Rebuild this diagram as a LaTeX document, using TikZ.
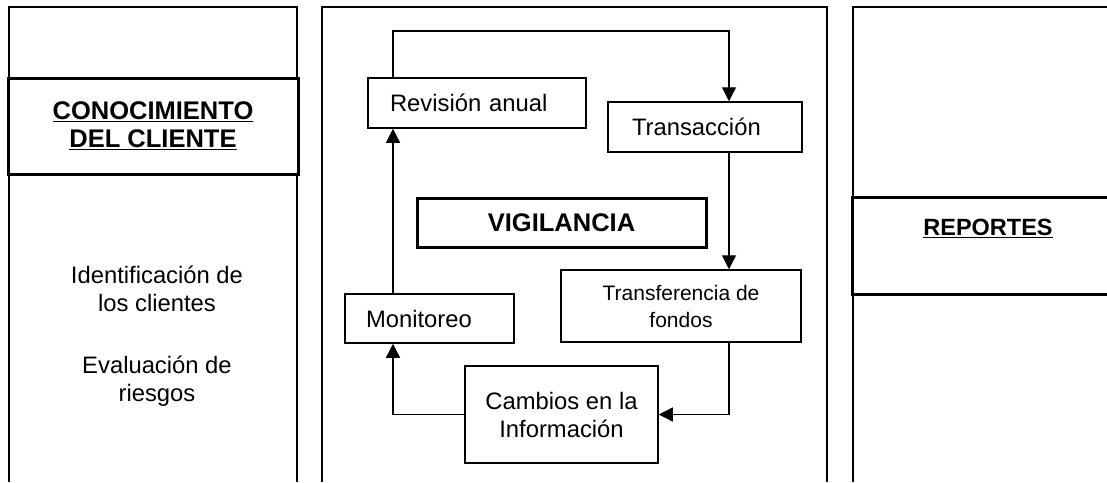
\documentclass[tikz,border=0pt]{standalone}
\usepackage{fontspec}
\setmainfont{Liberation Sans}
\usetikzlibrary{arrows.meta}

\begin{document}
\begin{tikzpicture}[x=1pt, y=-1pt,
  every node/.style={font=\fontsize{23.8}{28}\selectfont, align=center},
  caja/.style={draw, line width=1.5pt, inner sep=0pt},
  cajagruesa/.style={draw, line width=3pt, inner sep=0pt},
  titulo/.style={font=\fontsize{25.5}{28}\selectfont\bfseries},
  flecha/.style={line width=1.3pt, -{Triangle[length=14pt,width=14pt]}}]
\useasboundingbox (0,0) rectangle (1107,482);
\clip (0,0) rectangle (1107,482);
% Columnas
\draw[line width=1.5pt] (9,482) |- (297,7) -- (297,482);
\draw[line width=1.5pt] (322,482) |- (827,7) -- (827,482);
\draw[line width=1.5pt] (853,482) |- (1110,7);
% Conocimiento del cliente
\node[cajagruesa, titulo, fill=white, minimum width=290pt, minimum height=96pt] (con) at (153,126)
  {\underline{CONOCIMIENTO}\\\underline{DEL CLIENTE}};
\node (ide) at (157,289) {Identificación de\\los clientes};
\node (eva) at (157,381) {Evaluación de\\riesgos};
% Reportes
\node[cajagruesa, fill=white, minimum width=272pt, minimum height=97pt, font=\fontsize{23.5}{28}\selectfont\bfseries] (rep) at (988,245.5)
  {\underline{REPORTES}\\\strut};
% Vigilancia
\node[caja, minimum width=218pt, minimum height=50pt, inner xsep=22pt, text width=174pt, align=left] (rev) at (477,103) {Revisión anual};
\node[caja, minimum width=194pt, minimum height=50pt, inner xsep=24pt, text width=146pt, align=left] (tra) at (705,127) {Transacción};
\node[cajagruesa, titulo, minimum width=289pt, minimum height=49pt] (vig) at (561.5,222.5) {VIGILANCIA};
\node[caja, minimum width=240pt, minimum height=72pt, font=\fontsize{21}{27}\selectfont] (tf) at (681,306) {Transferencia de\\fondos};
\node[caja, minimum width=193pt, minimum height=97pt] (cam) at (561.5,414.5) {Cambios en la\\Información};
\node[caja, minimum width=169pt, minimum height=49pt, inner xsep=21pt, text width=127pt, align=left] (mon) at (429.5,318.5) {Monitoreo};
\coordinate (c1) at (393,31);
\coordinate (c2) at (729,31);
\draw[flecha] (c1 |- rev.north) -- (c1) -- (c2) -- (c2 |- tra.north);
\draw[flecha] (c2 |- tra.south) -- (c2 |- tf.north);
\draw[flecha] (c2 |- tf.south) -- (c2 |- cam.east) -- (cam.east);
\draw[flecha] (cam.west) -- (c1 |- cam.west) -- (c1 |- mon.south);
\draw[flecha] (c1 |- mon.north) -- (c1 |- rev.south);
\end{tikzpicture}
\end{document}
